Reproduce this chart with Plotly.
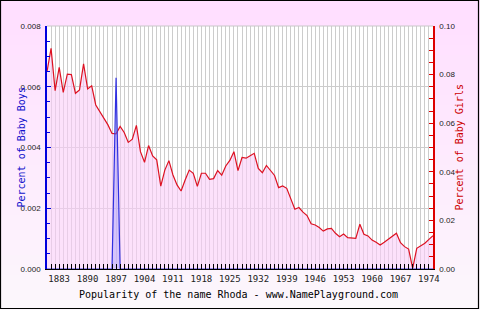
import plotly.graph_objects as go

years = list(range(1880, 1976))

girls = [
    0.0812, 0.0908, 0.0734, 0.0830, 0.0727, 0.0802, 0.0800, 0.0723, 0.0737, 0.0844,
    0.0741, 0.0754, 0.0675, 0.0647, 0.0620, 0.0593, 0.0558, 0.0556, 0.0587, 0.0562,
    0.0521, 0.0534, 0.0591, 0.0483, 0.0439, 0.0508, 0.0465, 0.0449, 0.0341, 0.0407,
    0.0446, 0.0387, 0.0346, 0.0321, 0.0366, 0.0407, 0.0394, 0.0340, 0.0394, 0.0394,
    0.0369, 0.0372, 0.0405, 0.0386, 0.0424, 0.0447, 0.0483, 0.0405, 0.0459, 0.0456,
    0.0466, 0.0476, 0.0414, 0.0396, 0.0426, 0.0407, 0.0385, 0.0335, 0.0342, 0.0332,
    0.0288, 0.0246, 0.0253, 0.0234, 0.0220, 0.0186, 0.0181, 0.0171, 0.0156, 0.0165,
    0.0167, 0.0147, 0.0133, 0.0144, 0.0129, 0.0127, 0.0126, 0.0184, 0.0143, 0.0136,
    0.0119, 0.0110, 0.0099, 0.0110, 0.0123, 0.0136, 0.0147, 0.0108, 0.0092, 0.0082,
    0.0003, 0.0085, 0.0095, 0.0106, 0.0122, 0.0137,
]

boys = [0.0063 if y == 1897 else 0.0 for y in years]

title_text = "Popularity of the name Rhoda - www.NamePlayground.com"
boys_title = "Percent of Baby Boys"
girls_title = "Percent of Baby Girls"

W, H = 480, 310
L, R, T, B = 47, 47, 26, 41
pw, ph = W - L - R, H - T - B


def px_to_paper_x(px):
    return (px - L) / pw


def px_to_paper_y(py):
    return (H - B - py) / ph


fig = go.Figure()

fig.add_trace(go.Scatter(
    x=years, y=girls, yaxis="y", mode="lines",
    line=dict(color="#dd1122", width=1.2),
    fill="tozeroy", fillcolor="rgba(250,205,248,0.6)",
    hoverinfo="skip", showlegend=False,
))
fig.add_trace(go.Scatter(
    x=years, y=boys, yaxis="y2", mode="lines",
    line=dict(color="#3030e0", width=1.2),
    fill="tozeroy", fillcolor="rgba(140,140,255,0.35)",
    hoverinfo="skip", showlegend=False,
))

# background gradient bands
shapes = []
nb = 62
top_c = (255, 222, 255)
bot_c = (252, 247, 252)
for i in range(nb):
    t = i / (nb - 1)
    c = tuple(round(top_c[k] + (bot_c[k] - top_c[k]) * t) for k in range(3))
    y0 = i * H / nb
    y1 = (i + 1) * H / nb + 0.6
    shapes.append(dict(
        type="rect", xref="paper", yref="paper", layer="below",
        x0=px_to_paper_x(-2), x1=px_to_paper_x(W + 2),
        y0=px_to_paper_y(y1), y1=px_to_paper_y(y0),
        fillcolor="rgb(%d,%d,%d)" % c, line=dict(width=0),
    ))
# white plot area
shapes.append(dict(type="rect", xref="paper", yref="paper", layer="below",
                   x0=0, x1=1, y0=0, y1=1, fillcolor="white", line=dict(width=0)))
# top grey border of plot
shapes.append(dict(type="line", xref="paper", yref="paper", layer="above",
                   x0=0, x1=1, y0=1, y1=1, line=dict(color="#c8c8c8", width=1)))
# outer black border
shapes.append(dict(type="rect", xref="paper", yref="paper", layer="above",
                   x0=px_to_paper_x(0.5), x1=px_to_paper_x(W - 1.5),
                   y0=px_to_paper_y(H - 1.5), y1=px_to_paper_y(0.5),
                   line=dict(color="black", width=1.2), fillcolor="rgba(0,0,0,0)"))

fig.update_layout(
    width=W, height=H,
    margin=dict(l=L, r=R, t=T, b=B, pad=0),
    paper_bgcolor="rgb(254,236,254)",
    plot_bgcolor="white",
    shapes=shapes,
    xaxis=dict(
        range=[1880, 1975], tickmode="linear", tick0=1883, dtick=7,
        ticks="inside", ticklen=5, tickcolor="black", tickwidth=1,
        showline=True, linecolor="black", linewidth=1,
        showgrid=True, gridcolor="#cccccc", gridwidth=1,
        zeroline=False,
        tickfont=dict(family="DejaVu Sans Mono", size=9, color="#222"),
        minor=dict(dtick=1, ticks="inside", ticklen=5, tickcolor="black",
                   showgrid=True, gridcolor="#cccccc", gridwidth=1),
        ticklabelstandoff=1,
    ),
    yaxis=dict(
        range=[0, 0.10], side="right", tickmode="linear", tick0=0, dtick=0.02,
        tickformat=".2f", ticks="inside", ticklen=4, tickcolor="#dd0000",
        showline=True, linecolor="#dd0000", linewidth=1.5,
        showgrid=False, zeroline=False,
        tickfont=dict(family="Liberation Sans", size=8, color="#222"),
        minor=dict(dtick=0.005, ticks="inside", ticklen=4, tickcolor="#dd0000"),
        ticklabelstandoff=3,
    ),
    yaxis2=dict(
        range=[0, 0.008], side="left", overlaying="y", tickmode="linear", tick0=0,
        dtick=0.002, tickformat=".3f", ticks="inside", ticklen=4, tickcolor="#0000dd",
        showline=True, linecolor="#0000dd", linewidth=1.5,
        showgrid=True, gridcolor="#cccccc", gridwidth=1, zeroline=False,
        tickfont=dict(family="Liberation Sans", size=8, color="#222"),
        minor=dict(dtick=0.0005, ticks="inside", ticklen=3, tickcolor="#0000dd"),
        ticklabelstandoff=3,
    ),
    annotations=[
        dict(text=title_text, xref="paper", yref="paper",
             x=px_to_paper_x(238.5), y=px_to_paper_y(294),
             xanchor="center", yanchor="middle", showarrow=False,
             font=dict(family="DejaVu Sans Mono", size=10, color="black")),
        dict(text=boys_title, xref="paper", yref="paper",
             x=px_to_paper_x(21), y=0.5, textangle=-90,
             xanchor="center", yanchor="middle", showarrow=False,
             font=dict(family="DejaVu Sans Mono", size=10, color="#1010cc")),
        dict(text=girls_title, xref="paper", yref="paper",
             x=px_to_paper_x(459), y=0.5, textangle=-90,
             xanchor="center", yanchor="middle", showarrow=False,
             font=dict(family="DejaVu Sans Mono", size=10, color="#cc0000")),
    ],
)

fig.write_html("out.html")
